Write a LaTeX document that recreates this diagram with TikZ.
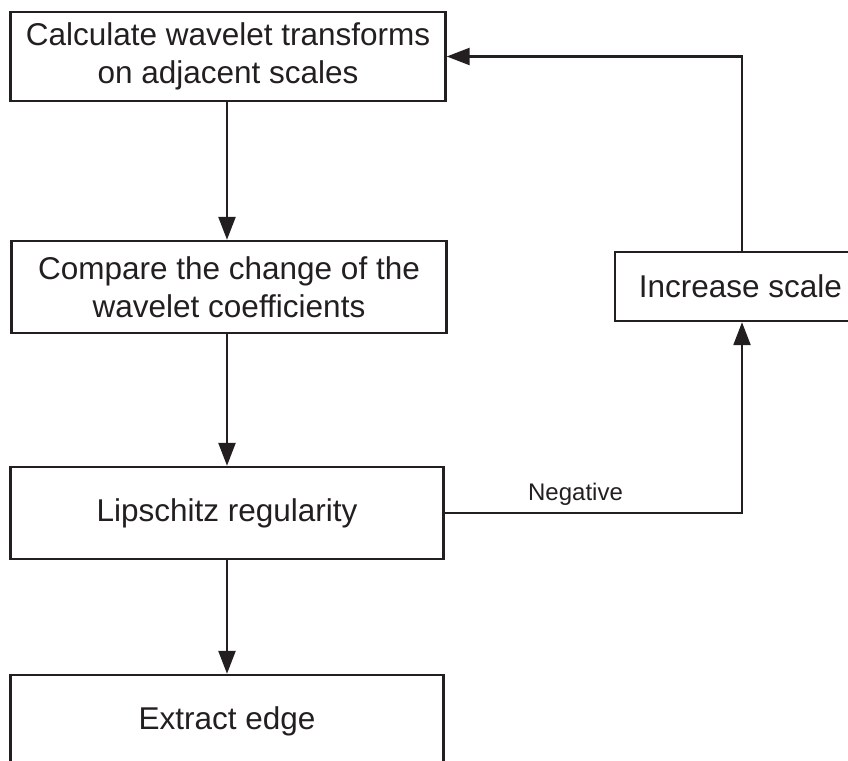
\documentclass[tikz,border=0pt]{standalone}
\usepackage{fontspec}
\setmainfont{Liberation Sans}
\usetikzlibrary{arrows.meta}
\definecolor{ink}{RGB}{35,31,32}
\begin{document}
\begin{tikzpicture}[x=1pt,y=-1pt,
  stepbox/.style={draw=ink, line width=2.4pt, text=ink, align=center,
    inner sep=0pt, font=\fontsize{31.5}{38}\selectfont},
  flow/.style={draw=ink, line width=2.4pt, -{Triangle[length=23pt,width=17pt]}},
  lbl/.style={text=ink, inner sep=0pt, font=\fontsize{24}{28}\selectfont}]
  \useasboundingbox (0,0) rectangle (848,760);

  % main column
  \node[stepbox, minimum width=435pt, minimum height=89pt] (calc) at (228,56.5)
    {Calculate wavelet transforms\\on adjacent scales};
  \node[stepbox, minimum width=435pt, minimum height=92pt] (cmp) at (229,287)
    {Compare the change of the\\wavelet coefficients};
  \node[stepbox, minimum width=433pt, minimum height=92pt] (lip) at (227,513)
    {Lipschitz regularity};
  \node[stepbox, minimum width=433pt, minimum height=93pt] (ext) at (227,721.5)
    {Extract edge};

  % side branch
  \node[stepbox, minimum width=251pt, minimum height=69pt] (inc) at (740.5,286.5)
    {Increase scale};

  % connectors
  \draw[flow] (calc.south -| lip.north) -- (cmp.north -| lip.north);
  \draw[flow] (cmp.south -| lip.north) -- (lip.north);
  \draw[flow] (lip.south) -- (ext.north);
  \draw[flow] (lip.east) -| node[lbl, pos=0.22, above=6pt] (neg) {Negative} ([xshift=1.5pt]inc.south);
  \draw[flow] ([xshift=1.5pt]inc.north) |- (calc.east);
\end{tikzpicture}
\end{document}
